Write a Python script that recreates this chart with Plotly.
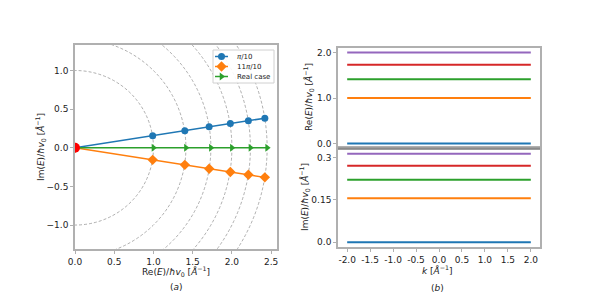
import plotly.graph_objects as go

# ---------------- data ----------------
# panel (a): complex eigenvalues
re_upper = [0.0, 0.99, 1.40, 1.71, 1.98, 2.21, 2.42]
im_upper = [0.0, 0.156, 0.221, 0.271, 0.313, 0.350, 0.383]
re_lower = [0.0, 0.99, 1.40, 1.71, 1.98, 2.21, 2.42]
im_lower = [0.0, -0.156, -0.221, -0.271, -0.313, -0.350, -0.383]
re_real = [0.0, 1.0, 1.414, 1.732, 2.0, 2.236, 2.449]
im_real = [0.0, 0.0, 0.0, 0.0, 0.0, 0.0, 0.0]
circle_radii = [1.0, 1.414, 1.732, 2.0, 2.236, 2.449]
legend_names = ["<i>π</i>/10", "11<i>π</i>/10", "Real case"]

# panel (b): bands vs k
k_vals = [-2.0, 2.0]
re_levels = [0.0, 1.0, 1.414, 1.732, 2.0]
im_levels = [0.0, 0.156, 0.221, 0.271, 0.313]
k_ticks = [-2.0, -1.5, -1.0, -0.5, 0.0, 0.5, 1.0, 1.5, 2.0]
k_ticktext = ["-2.0", "-1.5", "-1.0", "-0.5", "0.0", "0.5", "1.0", "1.5", "2.0"]

colors = ["#1f77b4", "#ff7f0e", "#2ca02c", "#d62728", "#9467bd"]
OFF = 8                      # page body margin
W, H = 600 - 2 * OFF, 300 - 2 * OFF
FONT = "DejaVu Sans"
SPINE = "#b0b0b0"


def px(x):
    return (x - OFF) / W


def py(y):
    return 1 - (y - OFF) / H


fig = go.Figure()

styles = [
    dict(color=colors[0], symbol="circle", size=7),
    dict(color=colors[1], symbol="diamond", size=8),
    dict(color=colors[2], symbol="triangle-right", size=7),
]
series = [(re_upper, im_upper), (re_lower, im_lower), (re_real, im_real)]

# ---- panel (a) ----
for (xs, ys), st, nm in zip(series, styles, legend_names):
    fig.add_trace(go.Scatter(x=xs, y=ys, mode="lines+markers", name=nm, showlegend=False,
                             line=dict(color=st["color"], width=1.5),
                             marker=dict(symbol=st["symbol"], size=st["size"], color=st["color"]),
                             xaxis="x", yaxis="y"))
fig.add_trace(go.Scatter(x=[re_real[0]], y=[im_real[0]], mode="markers", showlegend=False,
                         marker=dict(symbol="circle", size=10, color="#ff0000"),
                         xaxis="x", yaxis="y"))

for r in circle_radii:
    fig.add_shape(type="circle", xref="x", yref="y", x0=-r, y0=-r, x1=r, y1=r,
                  line=dict(color="rgba(130,130,130,0.8)", width=0.8, dash="3px,2px"),
                  layer="below")

# ---- custom compact legend (pixel overlay axis) ----
LX0, LX1, LY0, LY1 = 213, 274, 50, 83
fig.add_shape(type="rect", xref="x4", yref="y4", x0=LX0, x1=LX1, y0=LY0, y1=LY1,
              fillcolor="rgba(255,255,255,0.9)", line=dict(color="#d0d0d0", width=1),
              layer="below")
for i, (st, nm) in enumerate(zip(styles, legend_names)):
    yy = 56.5 + 10 * i
    fig.add_trace(go.Scatter(x=[215, 221.5, 228], y=[yy, yy, yy], mode="lines", showlegend=False,
                             line=dict(color=st["color"], width=1.5), hoverinfo="skip",
                             xaxis="x4", yaxis="y4"))
    fig.add_trace(go.Scatter(x=[221.5], y=[yy], mode="markers", showlegend=False,
                             marker=dict(symbol=st["symbol"], size=st["size"], color=st["color"]),
                             hoverinfo="skip", xaxis="x4", yaxis="y4"))
    fig.add_annotation(xref="x4", yref="y4", x=235, y=yy, text=nm, showarrow=False,
                       xanchor="left", yanchor="middle",
                       font=dict(family=FONT, size=7, color="#222"))

# ---- panel (b) ----
for i, lv in enumerate(re_levels):
    fig.add_trace(go.Scatter(x=k_vals, y=[lv] * len(k_vals), mode="lines", showlegend=False,
                             line=dict(color=colors[i], width=2), xaxis="x2", yaxis="y2"))
for i, lv in enumerate(im_levels):
    fig.add_trace(go.Scatter(x=k_vals, y=[lv] * len(k_vals), mode="lines", showlegend=False,
                             line=dict(color=colors[i], width=2), xaxis="x3", yaxis="y3"))

tickfont = dict(family=FONT, size=9, color="#222")
axcommon = dict(showline=True, mirror=True, linecolor=SPINE, linewidth=1.6, ticks="outside",
                ticklen=3, tickcolor=SPINE, showgrid=False, zeroline=False, tickfont=tickfont,
                automargin=False)

fig.update_layout(
    template="none",
    width=W, height=H, margin=dict(l=0, r=0, t=0, b=0, pad=0, autoexpand=False),
    paper_bgcolor="white", plot_bgcolor="rgba(0,0,0,0)",
    font=dict(family=FONT, size=9, color="#222"),
    showlegend=False,
    xaxis=dict(domain=[px(75), px(277)], range=[0, 2.575], tickvals=[0, 0.5, 1.0, 1.5, 2.0, 2.5],
               tickformat=".1f", anchor="y", **axcommon),
    yaxis=dict(domain=[py(249), py(45)], range=[-1.31, 1.33],
               tickvals=[-1.0, -0.5, 0.0, 0.5, 1.0], tickformat=".1f", anchor="x", **axcommon),
    xaxis2=dict(domain=[px(338), px(540)], range=[-2.2, 2.2], showticklabels=False,
                anchor="y2", **{k: v for k, v in axcommon.items() if k != "ticks"}, ticks=""),
    yaxis2=dict(domain=[py(148), py(48)], range=[-0.1, 2.1], tickvals=[0.0, 1.0, 2.0],
                tickformat=".1f", anchor="x2", **axcommon),
    xaxis3=dict(domain=[px(338), px(540)], range=[-2.2, 2.2], tickvals=k_ticks, ticktext=k_ticktext,
                anchor="y3", **axcommon),
    yaxis3=dict(domain=[py(247), py(148)], range=[-0.0165, 0.3335],
                tickvals=[0.0, 0.15, 0.3], ticktext=["0.0", "0.15", "0.3"], anchor="x3", **axcommon),
    xaxis4=dict(domain=[0, 1], range=[OFF, OFF + W], visible=False, anchor="y4", fixedrange=True,
                automargin=False),
    yaxis4=dict(domain=[0, 1], range=[OFF + H, OFF], visible=False, anchor="x4", fixedrange=True,
                automargin=False),
)

# separator between the two right-hand axes
fig.add_shape(type="line", xref="paper", yref="paper", x0=px(338), x1=px(540),
              y0=py(148.5), y1=py(148.5), line=dict(color="#8a8a8a", width=2))

lab_font = dict(family=FONT, size=9, color="#222")
unit = "[<i>Å</i><sup>−1</sup>]"
annos = [
    dict(x=176, y=271, text="Re(<i>E</i>)/<i>ħv</i><sub>0</sub> " + unit, textangle=0),
    dict(x=176, y=287, text="(<i>a</i>)", textangle=0),
    dict(x=40, y=147, text="Im(<i>E</i>)/<i>ħv</i><sub>0</sub> " + unit, textangle=-90),
    dict(x=438, y=270, text="<i>k</i> " + unit, textangle=0),
    dict(x=438, y=288, text="(<i>b</i>)", textangle=0),
    dict(x=308, y=97, text="Re(<i>E</i>)/<i>ħv</i><sub>0</sub> " + unit, textangle=-90),
    dict(x=304, y=197, text="Im(<i>E</i>)/<i>ħv</i><sub>0</sub> " + unit, textangle=-90),
]
for a in annos:
    fig.add_annotation(xref="paper", yref="paper", showarrow=False, font=lab_font,
                       xanchor="center", yanchor="middle",
                       x=px(a["x"]), y=py(a["y"]), text=a["text"], textangle=a["textangle"])

fig.write_html("out.html")
